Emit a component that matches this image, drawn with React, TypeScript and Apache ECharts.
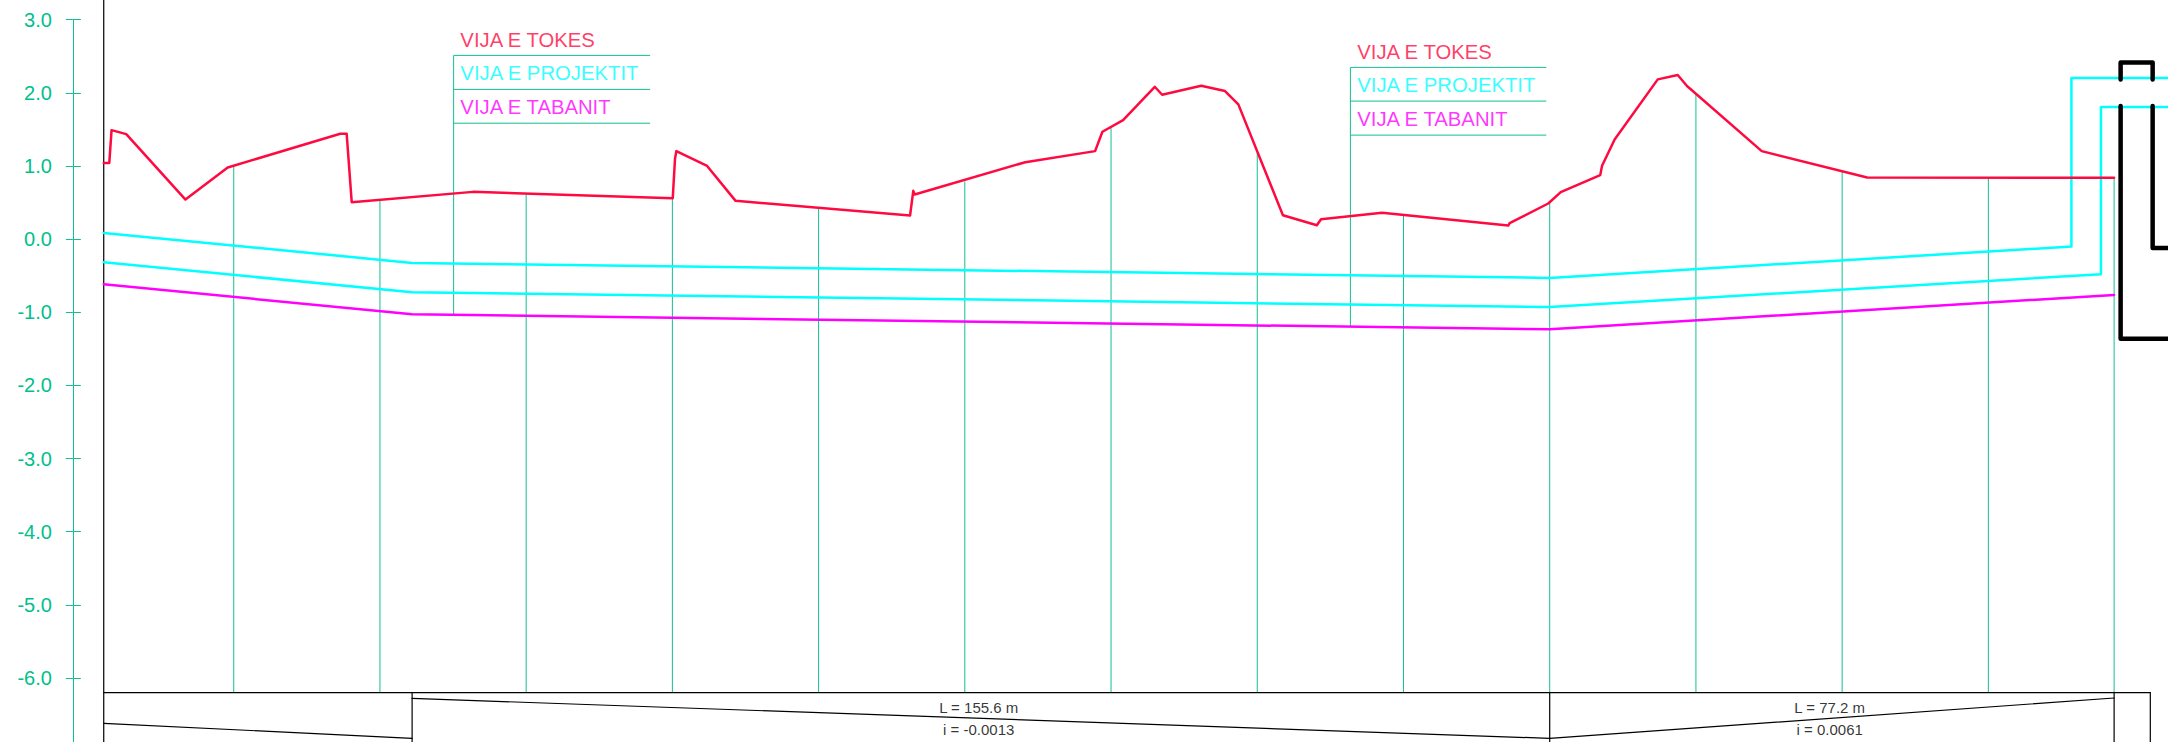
import React, { useEffect, useRef } from "react";
import * as echarts from "echarts";

const yTicksMin = -7;
const yTicksMax = 3;

const groundLine = [
  [2.22, 1.042], [2.98, 1.042], [3.29, 1.49], [5.3, 1.436], [13.4, 0.541], [19.18, 0.979],
  [34.57, 1.44], [35.45, 1.44], [36.14, 0.505], [52.72, 0.646], [80.05, 0.56], [80.36, 1.1],
  [80.54, 1.203], [84.75, 1.0], [88.65, 0.523], [112.51, 0.323], [112.95, 0.66], [113.14, 0.61],
  [128.27, 1.052], [137.82, 1.203], [138.82, 1.468], [141.65, 1.627], [145.98, 2.083],
  [146.99, 1.974], [152.33, 2.097], [155.59, 2.024], [157.41, 1.842], [163.51, 0.327],
  [168.15, 0.19], [168.72, 0.272], [177.07, 0.359], [194.33, 0.186], [194.52, 0.218],
  [199.8, 0.487], [201.51, 0.642], [206.91, 0.875], [207.16, 1.002], [208.88, 1.363],
  [214.78, 2.184], [217.51, 2.243], [218.78, 2.093], [229.0, 1.203], [243.42, 0.843], [277.2, 0.838],
];
const designTop = [
  [2.22, 0.085], [44.4, -0.325], [200, -0.53], [271.36, -0.102], [271.36, 2.203], [285, 2.203],
];
const designBottom = [
  [2.22, -0.316], [44.4, -0.727], [200, -0.928], [275.4, -0.48], [275.4, 1.805], [285, 1.805],
];
const invertLine = [[2.22, -0.617], [44.4, -1.028], [200, -1.233], [277.2, -0.763]];

const stationX = [20, 40, 60, 80, 100, 120, 140, 160, 180, 200, 220, 240, 260, 277.2];
const stationTop = [0.99, 0.532, 0.624, 0.56, 0.418, 0.783, 1.513, 1.194, 0.318, 0.487, 1.99, 0.911, 0.829, 0.838];
const tableTop = -6.2;
const tableBottom = -7;

const leaderA = [
  [[50.08, -1.041], [50.08, 2.512], [76.9, 2.512]],
  [[50.08, 2.047], [76.9, 2.047]],
  [[50.08, 1.585], [76.9, 1.585]],
];
const leaderB = [
  [[172.74, -1.188], [172.74, 2.348], [199.48, 2.348]],
  [[172.74, 1.887], [199.48, 1.887]],
  [[172.74, 1.422], [199.48, 1.422]],
];
const legendLabels = ["VIJA E TOKES", "VIJA E PROJEKTIT", "VIJA E TABANIT"];
const legendColors = ["#ff0a40", "#00ffff", "#ff00ff"];
const legendA = [[51.0, 2.722], [51.0, 2.27], [51.0, 1.81]];
const legendB = [[173.68, 2.558], [173.68, 2.11], [173.68, 1.646]];

const tableLines = [
  [[2.22, 3.27], [2.22, tableBottom]],
  [[2.22, tableTop], [282.15, tableTop]],
  [[44.4, tableTop], [44.4, tableBottom]],
  [[200, tableTop], [200, tableBottom]],
  [[277.2, tableTop], [277.2, tableBottom]],
  [[282.15, tableTop], [282.15, tableBottom]],
  [[2.22, -6.62], [44.4, -6.826]],
  [[44.4, -6.279], [200, -6.826]],
  [[200, -6.826], [277.2, -6.274]],
];
const tableTexts = [
  { pos: [121.9, -6.406], text: "L = 155.6 m" },
  { pos: [121.9, -6.71], text: "i = -0.0013" },
  { pos: [238.3, -6.406], text: "L = 77.2 m" },
  { pos: [238.3, -6.71], text: "i = 0.0061" },
];

const structure = [
  [[278.09, 1.819], [278.09, -1.361], [285, -1.361]],
  [[282.47, 1.819], [282.47, -0.12], [285, -0.12]],
  [[278.09, 2.184], [278.09, 2.416], [282.47, 2.416], [282.47, 2.184]],
];

const GREEN = "#12bf92";
const FONT = "Liberation Sans";

const polyline = (data: number[][], color: string, width: number, z = 2) => ({
  type: "line",
  data,
  showSymbol: false,
  symbol: "none",
  silent: true,
  clip: false,
  z,
  lineStyle: { color, width, join: "round", cap: "round" },
});

const textSeries = (
  pos: number[],
  text: string,
  color: string,
  fontSize: number,
  align: "left" | "center",
) => ({
  type: "scatter",
  data: [pos],
  symbolSize: 0,
  silent: true,
  clip: false,
  z: 6,
  label: {
    show: true,
    position: align === "left" ? "right" : "inside",
    distance: 0,
    formatter: text,
    color,
    fontSize,
    fontFamily: FONT,
    align,
    verticalAlign: "middle",
  },
});

export default function App() {
  const ref = useRef<HTMLDivElement>(null);
  useEffect(() => {
    document.body.style.margin = "0";
    const chart = echarts.init(ref.current!, null, { renderer: "svg" });
    const series: any[] = [];
    stationX.forEach((x, i) => {
      series.push(polyline([[x, tableTop], [x, stationTop[i]]], GREEN, 1, 1));
    });
    [...leaderA, ...leaderB].forEach((d) => series.push(polyline(d, GREEN, 1, 1)));
    tableLines.forEach((d) => series.push(polyline(d, "#000000", 1.2, 2)));
    series.push(polyline(designTop, "#00ffff", 2.5, 3));
    series.push(polyline(designBottom, "#00ffff", 2.5, 3));
    series.push(polyline(invertLine, "#ff00ff", 2.5, 3));
    series.push(polyline(groundLine, "#ff0a40", 2.5, 4));
    structure.forEach((d) => series.push(polyline(d, "#000000", 4.5, 5)));
    legendLabels.forEach((t, i) => {
      series.push(textSeries(legendA[i], t, legendColors[i], 20.3, "left"));
      series.push(textSeries(legendB[i], t, legendColors[i], 20.3, "left"));
    });
    tableTexts.forEach((t) => series.push(textSeries(t.pos, t.text, "#000000", 15, "center")));

    const yBase = {
      type: "value",
      min: yTicksMin,
      max: yTicksMax,
      interval: 1,
      position: "left",
      splitLine: { show: false },
      axisLine: { show: true, onZero: false, lineStyle: { color: GREEN, width: 1 } },
    };
    chart.setOption({
      animation: false,
      backgroundColor: "#ffffff",
      grid: { left: 72.88, top: 19.7, width: 2098.26, height: 731.4, outerBoundsMode: "none" },
      xAxis: { type: "value", min: -2, max: 285, show: false },
      yAxis: [
        {
          ...yBase,
          axisTick: { show: true, length: 7, lineStyle: { color: GREEN, width: 1 } },
          axisLabel: {
            show: true,
            margin: 21,
            color: "#00c08c",
            fontSize: 20,
            fontFamily: FONT,
            showMinLabel: false,
            formatter: (v: number) => v.toFixed(1),
          },
        },
        {
          ...yBase,
          axisTick: { show: true, inside: true, length: 8, lineStyle: { color: GREEN, width: 1 } },
          axisLabel: { show: false },
        },
      ],
      series,
    });
    return () => chart.dispose();
  }, []);
  return (
    <div
      ref={ref}
      style={{ position: "absolute", left: 0, top: 0, width: 2168, height: 742, overflow: "hidden" }}
    />
  );
}
